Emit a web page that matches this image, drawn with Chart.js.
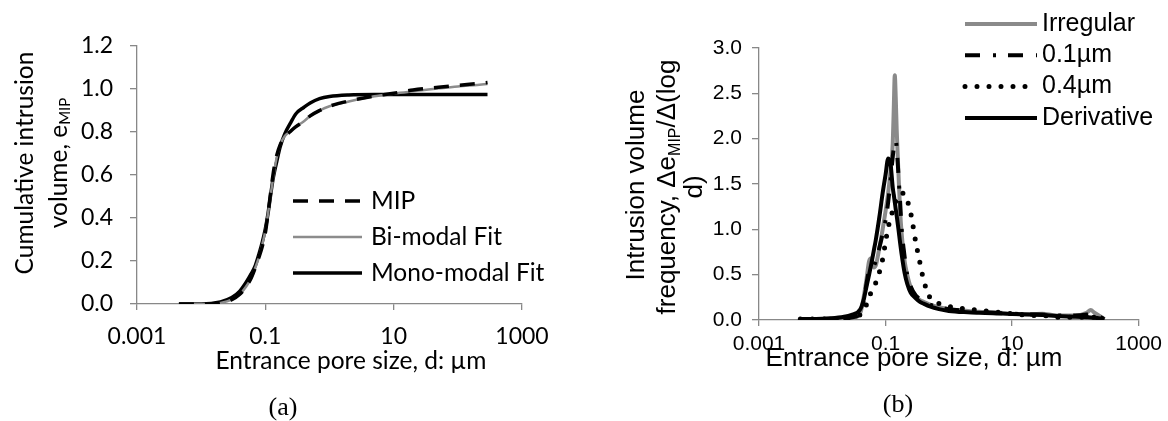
<!DOCTYPE html>
<html>
<head>
<meta charset="utf-8">
<script src="https://cdn.jsdelivr.net/npm/chart.js@4.4.1/dist/chart.umd.min.js"></script>
<style>
    body { margin: 0; background: #fff; width: 1168px; height: 421px; position: relative; overflow: hidden; }
    canvas { position: absolute; top: 0; }
    #chartA { left: 0; }
    #chartB { left: 584px; }
    .caption { position: absolute; font-family: "Liberation Serif", "Times New Roman", serif; font-size: 26px; transform: translate(-50%, -50%); }
</style>
</head>
<body>
<canvas id="chartA" width="584" height="421"></canvas>
<canvas id="chartB" width="584" height="421"></canvas>
<div class="caption" style="left:283px; top:407px;">(a)</div>
<div class="caption" style="left:898px; top:404px;">(b)</div>

<script>
// Pore sizes (µm) used for the cumulative curves (a)
const sizeA = [0.0045, 0.01, 0.02, 0.03, 0.04, 0.05, 0.06, 0.07, 0.08, 0.09,
    0.1, 0.11, 0.12, 0.13, 0.14, 0.15, 0.17, 0.2, 0.25, 0.3,
    0.4, 0.5, 0.7, 1, 2, 5, 10, 20, 50, 100, 200, 290];
const mipCum = [0, 0, 0.005, 0.02, 0.045, 0.08, 0.12, 0.17, 0.22, 0.27,
    0.33, 0.42, 0.51, 0.59, 0.65, 0.69, 0.74, 0.775, 0.805, 0.825,
    0.85, 0.875, 0.9, 0.92, 0.944, 0.967, 0.98, 0.995, 1.008, 1.017, 1.025, 1.03];
const bimodalCum = [0, 0, 0.005, 0.02, 0.045, 0.08, 0.12, 0.17, 0.22, 0.28,
    0.34, 0.42, 0.5, 0.57, 0.63, 0.68, 0.74, 0.78, 0.805, 0.825,
    0.85, 0.875, 0.9, 0.92, 0.942, 0.966, 0.978, 0.99, 1.003, 1.012, 1.019, 1.023];
const monomodalCum = [0, 0, 0.01, 0.03, 0.06, 0.1, 0.14, 0.18, 0.235, 0.29,
    0.35, 0.42, 0.5, 0.57, 0.62, 0.66, 0.73, 0.79, 0.845, 0.885,
    0.915, 0.935, 0.955, 0.965, 0.972, 0.974, 0.974, 0.974, 0.974, 0.974, 0.974, 0.974];

// Pore sizes (µm) used for the frequency curves (b)
const sizeB = [0.0045, 0.01, 0.02, 0.03, 0.04, 0.045, 0.05, 0.055, 0.06, 0.065,
    0.07, 0.08, 0.09, 0.1, 0.11, 0.12, 0.13, 0.135, 0.14, 0.145,
    0.15, 0.16, 0.17, 0.18, 0.2, 0.22, 0.25, 0.3, 0.35, 0.4,
    0.5, 0.7, 1, 2, 3, 5, 10, 20, 30, 50,
    100, 150, 175, 200, 290];
const irregularFreq = [0, 0.01, 0.01, 0.02, 0.08, 0.25, 0.45, 0.65, 0.68, 0.58,
    0.6, 0.8, 1.0, 1.2, 1.4, 1.65, 1.95, 2.35, 2.7, 2.45,
    2.1, 1.62, 1.2, 0.95, 0.65, 0.5, 0.36, 0.26, 0.22, 0.2,
    0.17, 0.14, 0.12, 0.1, 0.09, 0.085, 0.07, 0.06, 0.07, 0.05,
    0.05, 0.08, 0.11, 0.08, 0.01];
const sphere01Freq = [0.01, 0.01, 0.02, 0.03, 0.08, 0.2, 0.4, 0.55, 0.6, 0.6,
    0.65, 0.8, 0.95, 1.1, 1.3, 1.55, 1.8, 1.9, 1.96, 1.98,
    1.9, 1.6, 1.3, 1.0, 0.7, 0.5, 0.37, 0.27, 0.23, 0.2,
    0.17, 0.14, 0.12, 0.1, 0.09, 0.08, 0.07, 0.06, 0.06, 0.05,
    0.05, 0.06, 0.07, 0.06, 0.01];
const sphere04Freq = [0.01, 0.01, 0.02, 0.03, 0.06, 0.1, 0.17, 0.26, 0.31, 0.36,
    0.41, 0.53, 0.67, 0.86, 1.02, 1.12, 1.21, 1.25, 1.28, 1.31,
    1.34, 1.37, 1.39, 1.4, 1.39, 1.32, 1.18, 0.86, 0.63, 0.44,
    0.25, 0.18, 0.15, 0.12, 0.11, 0.09, 0.07, 0.05, 0.05, 0.03,
    0.03, 0.03, 0.03, 0.03, 0.01];
const derivativeFreq = [0.01, 0.015, 0.03, 0.06, 0.12, 0.22, 0.37, 0.5, 0.63, 0.76,
    0.88, 1.14, 1.4, 1.6, 1.78, 1.72, 1.46, 1.38, 1.3, 1.22,
    1.15, 1.0, 0.85, 0.72, 0.52, 0.4, 0.3, 0.24, 0.2, 0.18,
    0.15, 0.12, 0.1, 0.085, 0.08, 0.075, 0.065, 0.06, 0.055, 0.045,
    0.035, 0.03, 0.028, 0.025, 0.01];

// Axis ticks
const xTickValues = [0.001, 0.1, 10, 1000];
const xTickLabels = ['0.001', '0.1', '10', '1000'];

const toPoints = (xs, ys) => xs.map((x, i) => ({ x: x, y: ys[i] }));

// Draw a line of text (with optional subscript parts) rotated -90 degrees
function drawRotatedText(ctx, parts, cx, cy, font, subFont, subShift) {
    ctx.save();
    ctx.translate(cx, cy);
    ctx.rotate(-Math.PI / 2);
    ctx.fillStyle = '#000';
    ctx.textBaseline = 'middle';
    ctx.textAlign = 'left';
    let total = 0;
    parts.forEach(p => {
        ctx.font = p.sub ? subFont : font;
        p.w = ctx.measureText(p.t).width;
        total += p.w;
    });
    let x = -total / 2;
    parts.forEach(p => {
        ctx.font = p.sub ? subFont : font;
        ctx.fillText(p.t, x, p.sub ? subShift : 0);
        x += p.w;
    });
    ctx.restore();
}

// Legend drawn from the datasets' own styles
function drawLegend(chart, x0, y0, dy, lineLen, gap, font) {
    const ctx = chart.ctx;
    chart.data.datasets.forEach((ds, i) => {
        const y = y0 + i * dy;
        ctx.save();
        ctx.strokeStyle = ds.borderColor;
        ctx.lineWidth = ds.borderWidth;
        ctx.lineCap = ds.borderCapStyle || 'butt';
        ctx.setLineDash(ds.borderDash || []);
        ctx.beginPath();
        ctx.moveTo(x0, y);
        ctx.lineTo(x0 + lineLen, y);
        ctx.stroke();
        ctx.setLineDash([]);
        ctx.fillStyle = '#000';
        ctx.font = font;
        ctx.textBaseline = 'middle';
        ctx.textAlign = 'left';
        ctx.fillText(ds.label, x0 + lineLen + gap, y);
        ctx.restore();
    });
}

function xScale(font, tickPad, height) {
    return {
        type: 'logarithmic',
        min: 0.001,
        max: 1000,
        afterBuildTicks: s => { s.ticks = xTickValues.map(v => ({ value: v })); },
        afterFit: s => { s.height = height; },
        border: { color: '#888', width: 1.3 },
        grid: { drawOnChartArea: false, color: '#888', tickLength: 6, lineWidth: 1.3 },
        ticks: {
            autoSkip: false,
            maxRotation: 0,
            padding: tickPad,
            color: '#000',
            font: font,
            callback: (v, i) => xTickLabels[i]
        }
    };
}

function yScale(max, step, font, tickPad, width) {
    return {
        min: 0,
        max: max,
        afterFit: s => { s.width = width; },
        border: { color: '#888', width: 1.3 },
        grid: { drawOnChartArea: false, color: '#888', tickLength: 7, lineWidth: 1.3 },
        ticks: {
            stepSize: step,
            padding: tickPad,
            color: '#000',
            font: font,
            callback: v => v.toFixed(1)
        }
    };
}

const lineDefaults = {
    pointRadius: 0,
    pointHoverRadius: 0,
    fill: false,
    cubicInterpolationMode: 'monotone'
};

function initCharts() {
    const fontA = { family: 'Lato', size: 23 };
    const fontB = { family: 'Liberation Sans', size: 21 };

    // Chart (a): cumulative intrusion
    const textA = {
        id: 'textA',
        afterDraw(chart) {
            const ctx = chart.ctx;
            const mid = (chart.chartArea.top + chart.chartArea.bottom) / 2 - 12;
            drawRotatedText(ctx, [{ t: 'Cumulative intrusion' }], 25, mid, '24.5px Lato', '15px Lato', 0);
            drawRotatedText(ctx, [{ t: 'volume, e' }, { t: 'MIP', sub: true }], 59, mid, '24.5px Lato', '15px Lato', 6);
            ctx.save();
            ctx.fillStyle = '#000';
            ctx.font = '24.5px Lato';
            ctx.textAlign = 'center';
            ctx.textBaseline = 'middle';
            ctx.fillText('Entrance pore size, d: µm', 351, 361);
            ctx.restore();
            drawLegend(chart, 293, 201, 36, 69, 9, '24.5px Lato');
        }
    };

    new Chart(document.getElementById('chartA'), {
        type: 'line',
        data: {
            datasets: [
                { label: 'MIP', data: toPoints(sizeA, mipCum), borderColor: '#000', borderWidth: 3.5, borderDash: [15, 11], ...lineDefaults },
                { label: 'Bi-modal Fit', data: toPoints(sizeA, bimodalCum), borderColor: '#8c8c8c', borderWidth: 2.5, ...lineDefaults },
                { label: 'Mono-modal Fit', data: toPoints(sizeA, monomodalCum), borderColor: '#000', borderWidth: 3.5, ...lineDefaults }
            ]
        },
        options: {
            responsive: false,
            animation: false,
            layout: { padding: { left: 0, right: 62, top: 46, bottom: 57 } },
            plugins: { legend: { display: false }, tooltip: { enabled: false } },
            scales: {
                x: xScale(fontA, 13, 60),
                y: yScale(1.2, 0.2, fontA, 17, 137)
            }
        },
        plugins: [textA]
    });

    // Chart (b): intrusion volume frequency
    const textB = {
        id: 'textB',
        afterDraw(chart) {
            const ctx = chart.ctx;
            drawRotatedText(ctx, [{ t: 'Intrusion volume' }], 53, 185, '26px "Liberation Sans"', '16px "Liberation Sans"', 0);
            drawRotatedText(ctx, [{ t: 'frequency, Δe' }, { t: 'MIP', sub: true }, { t: '/Δ(log' }], 84, 187, '26px "Liberation Sans"', '16px "Liberation Sans"', 8);
            drawRotatedText(ctx, [{ t: 'd)' }], 111, 187, '26px "Liberation Sans"', '16px "Liberation Sans"', 0);
            ctx.save();
            ctx.fillStyle = '#000';
            ctx.font = '26px "Liberation Sans"';
            ctx.textAlign = 'center';
            ctx.textBaseline = 'middle';
            ctx.fillText('Entrance pore size, d: µm', 330, 359);
            ctx.restore();
            drawLegend(chart, 381, 24, 31.3, 72, 5, '25px "Liberation Sans"');
        }
    };

    new Chart(document.getElementById('chartB'), {
        type: 'line',
        data: {
            datasets: [
                { label: 'Irregular', data: toPoints(sizeB, irregularFreq), borderColor: '#8a8a8a', borderWidth: 4, order: 4, ...lineDefaults },
                { label: '0.1µm', data: toPoints(sizeB, sphere01Freq), borderColor: '#000', borderWidth: 4, borderDash: [15, 13, 3, 12], order: 2, ...lineDefaults },
                { label: '0.4µm', data: toPoints(sizeB, sphere04Freq), borderColor: '#000', borderWidth: 5, borderDash: [0, 12], borderCapStyle: 'round', order: 3, ...lineDefaults },
                { label: 'Derivative', data: toPoints(sizeB, derivativeFreq), borderColor: '#000', borderWidth: 4, order: 1, ...lineDefaults }
            ]
        },
        options: {
            responsive: false,
            animation: false,
            layout: { padding: { left: 0, right: 27, top: 48, bottom: 41 } },
            plugins: { legend: { display: false }, tooltip: { enabled: false } },
            scales: {
                x: xScale(fontB, 6, 60),
                y: yScale(3.0, 0.5, fontB, 10, 175)
            }
        },
        plugins: [textB]
    });
}

Promise.all([
    document.fonts.load('22px Lato'),
    document.fonts.load('26px "Liberation Sans"')
]).then(initCharts, initCharts);
</script>
</body>
</html>
